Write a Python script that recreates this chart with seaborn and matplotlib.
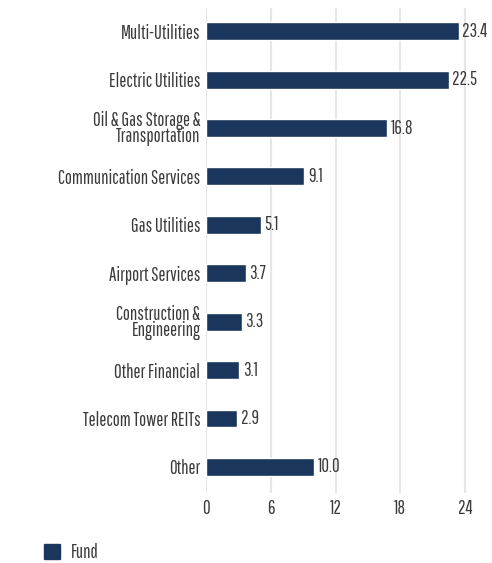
import pandas as pd
import seaborn as sns
import matplotlib.pyplot as plt
from matplotlib.patches import Patch

sns.set_theme(style="white")
plt.rcParams['font.family'] = ['Pathway Gothic One', 'DejaVu Sans']

industries = ['Multi-Utilities', 'Electric Utilities', 'Oil & Gas Storage &\nTransportation',
              'Communication Services', 'Gas Utilities', 'Airport Services',
              'Construction &\nEngineering', 'Other Financial', 'Telecom Tower REITs', 'Other']
fund = [23.4, 22.5, 16.8, 9.1, 5.1, 3.7, 3.3, 3.1, 2.9, 10.0]
xticks = [0, 6, 12, 18, 24]

navy = '#1b365d'
txt = '#3a3a3a'
fs = 13.5

df = pd.DataFrame({'Industry': industries, 'Fund': fund})

fig = plt.figure(figsize=(4.92, 5.63), dpi=100)
ax = fig.add_axes([0.4187, 0.1243, 0.5703, 0.8615])
sns.barplot(data=df, y='Industry', x='Fund', orient='h', color=navy, width=0.37,
            saturation=1, ax=ax, zorder=3)

ax.set_xlim(0, 26)
ax.set_ylim(9.54, -0.48)
ax.set_xticks(xticks)
ax.set_xticklabels([str(t) for t in xticks])
ax.grid(axis='x', color='#e6e6e6', lw=1.5, zorder=0)
ax.grid(axis='y', visible=False)
for s in ax.spines.values():
    s.set_visible(False)
ax.set_xlabel('')
ax.set_ylabel('')
ax.tick_params(axis='both', length=0, labelsize=fs, colors=txt)
ax.tick_params(axis='x', pad=4)
ax.tick_params(axis='y', pad=4)
for lab in ax.get_yticklabels():
    lab.set_linespacing(0.8)

for i, v in enumerate(fund):
    ax.text(v + 0.33, i, f'{v:.1f}', va='center', ha='left', fontsize=fs, color=txt)

fig.legend(handles=[Patch(color=navy, label='Fund')], loc='center left',
           bbox_to_anchor=(0.089, 0.018), frameon=False, fontsize=fs,
           borderpad=0, borderaxespad=0,
           handlelength=0.85, handleheight=0.85, handletextpad=0.6,
           labelcolor=txt)

fig.savefig('out.png', dpi=100)
